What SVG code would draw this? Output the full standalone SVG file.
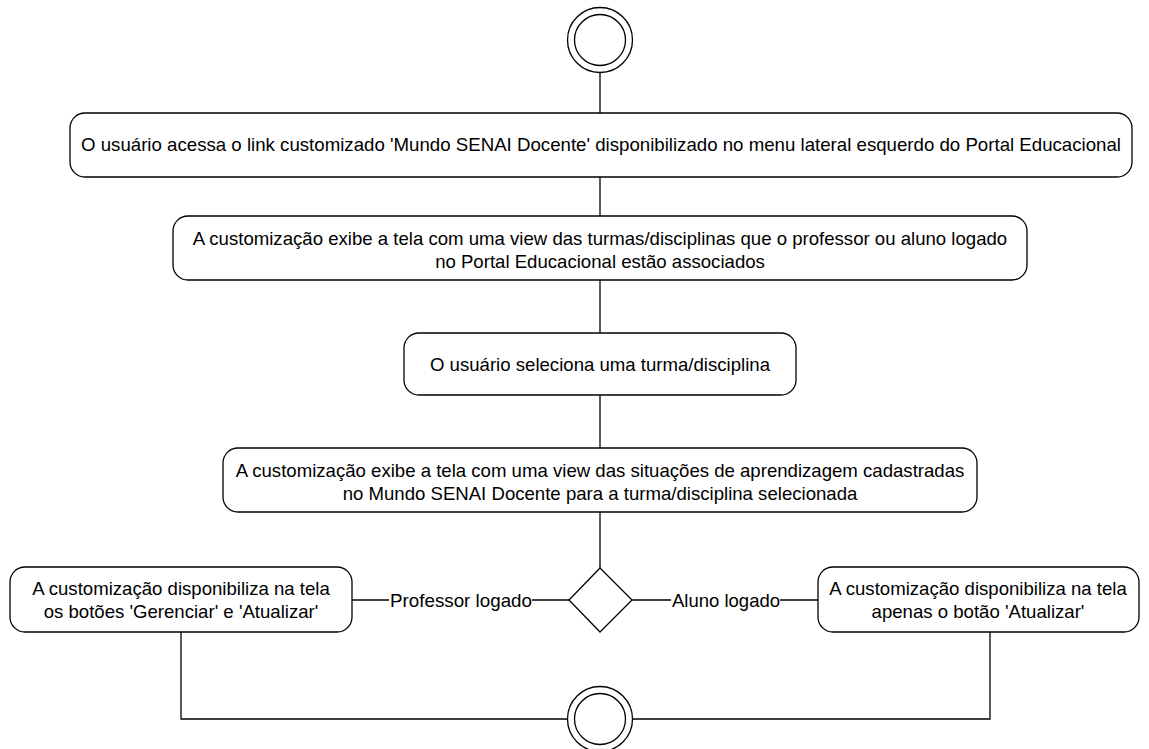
<svg xmlns="http://www.w3.org/2000/svg" width="1149" height="749" viewBox="0 0 1149 749">
<style>
.n{fill:#fff;stroke:#000;stroke-width:1.3}
.c{fill:none;stroke:#000;stroke-width:1.3}
.t{font-family:"Liberation Sans",Arial,sans-serif;font-size:18.6px;fill:#000;text-anchor:middle}
</style>
<rect width="1149" height="749" fill="#fff"/>
<g id="connectors">
<line class="c" x1="600" y1="73" x2="600" y2="113"/>
<line class="c" x1="600" y1="177" x2="600" y2="216"/>
<line class="c" x1="600" y1="280" x2="600" y2="333"/>
<line class="c" x1="600" y1="395" x2="600" y2="448"/>
<line class="c" x1="600" y1="512" x2="600" y2="568"/>
<line class="c" x1="352" y1="600" x2="389" y2="600"/>
<line class="c" x1="532" y1="600" x2="569" y2="600"/>
<line class="c" x1="632" y1="600" x2="671" y2="600"/>
<line class="c" x1="780" y1="600" x2="818" y2="600"/>
<polyline class="c" points="181,632 181,719 568,719"/>
<polyline class="c" points="990,632 990,719 632,719"/>
<text class="t" x="461" y="607" textLength="142" lengthAdjust="spacingAndGlyphs">Professor logado</text>
<text class="t" x="726" y="607" textLength="108" lengthAdjust="spacingAndGlyphs">Aluno logado</text>
</g>
<g id="start">
<circle class="n" cx="600" cy="40" r="32.5"/>
<circle class="n" cx="600" cy="40" r="25.5"/>
</g>
<g id="a1">
<rect class="n" x="70" y="113" width="1062" height="64" rx="15"/>
<text class="t" x="601" y="151" textLength="1040" lengthAdjust="spacingAndGlyphs">O usuário acessa o link customizado 'Mundo SENAI Docente' disponibilizado no menu lateral esquerdo do Portal Educacional</text>
</g>
<g id="a2">
<rect class="n" x="173" y="216" width="854" height="64" rx="15"/>
<text class="t" x="600" y="245">A customização exibe a tela com uma view das turmas/disciplinas que o professor ou aluno logado</text>
<text class="t" x="600" y="268">no Portal Educacional estão associados</text>
</g>
<g id="a3">
<rect class="n" x="404" y="333" width="392" height="62" rx="15"/>
<text class="t" x="600" y="371">O usuário seleciona uma turma/disciplina</text>
</g>
<g id="a4">
<rect class="n" x="223" y="448" width="754" height="64" rx="15"/>
<text class="t" x="600" y="477">A customização exibe a tela com uma view das situações de aprendizagem cadastradas</text>
<text class="t" x="600" y="500">no Mundo SENAI Docente para a turma/disciplina selecionada</text>
</g>
<g id="decision">
<polygon class="n" points="600,568 632,600 600,632 569,600"/>
</g>
<g id="a5">
<rect class="n" x="10" y="567" width="342" height="65" rx="15"/>
<text class="t" x="181" y="595">A customização disponibiliza na tela</text>
<text class="t" x="181" y="618">os botões 'Gerenciar' e 'Atualizar'</text>
</g>
<g id="a6">
<rect class="n" x="818" y="567" width="321" height="65" rx="15"/>
<text class="t" x="978" y="595">A customização disponibiliza na tela</text>
<text class="t" x="978" y="618">apenas o botão 'Atualizar'</text>
</g>
<g id="end">
<circle class="n" cx="600" cy="719" r="32.5"/>
<circle class="n" cx="600" cy="719" r="25.5"/>
</g>
</svg>
